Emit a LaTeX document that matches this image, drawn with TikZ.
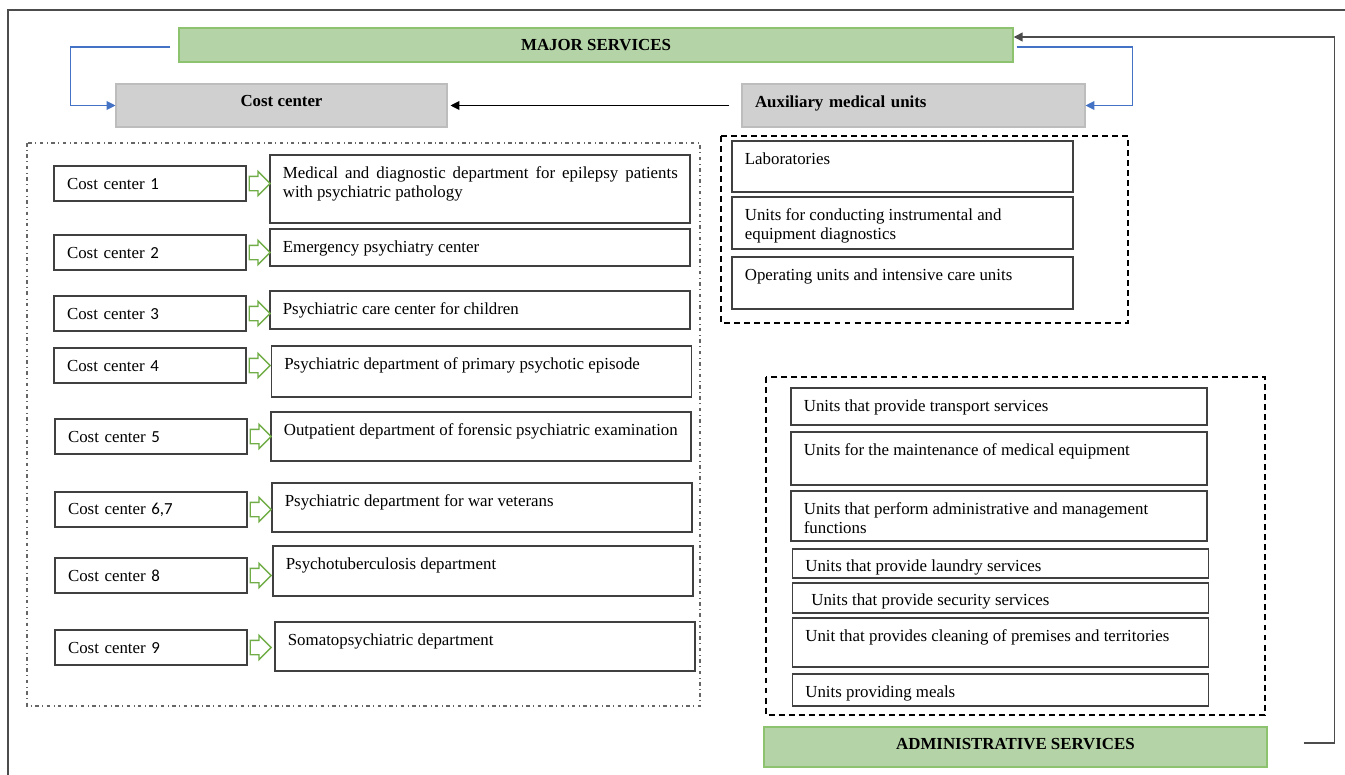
\documentclass[tikz,border=0pt]{standalone}
\usepackage{fontspec}
\setmainfont{Liberation Serif}
\newfontfamily\carlito{Carlito}
\usetikzlibrary{arrows.meta,positioning,shapes.arrows}
\definecolor{majorgreen}{HTML}{B4D3A6}
\definecolor{majoredge}{HTML}{8DC26F}
\definecolor{headgray}{HTML}{D0D0D0}
\definecolor{headedge}{HTML}{BDBDBD}
\definecolor{flowblue}{HTML}{4472C4}
\definecolor{hollowgreen}{HTML}{70AD47}

\tikzset{
  every node/.style={font=\fontsize{9.6}{11}\selectfont},
  service/.style={draw=majoredge, fill=majorgreen, line width=0.8pt, font=\fontsize{9.6}{11}\selectfont\bfseries, inner sep=0pt},
  header/.style={draw=headedge, fill=headgray, line width=0.6pt, font=\fontsize{9.6}{11}\selectfont\bfseries, inner sep=0pt},
  unit/.style={draw=black!75, line width=0.6pt, inner sep=0pt},
  costbox/.style={unit, minimum width=3.84cm, minimum height=0.70cm, text width=3.32cm, align=left, inner xsep=0.26cm},
  dept/.style={unit, minimum width=8.40cm},
  aux unit/.style={unit, minimum width=6.82cm},
  admin unit/.style={unit, minimum width=8.32cm},
  utext/.style={anchor=north west, xshift=0.26cm, yshift=-0.23cm, inner sep=0pt, align=left},
  dtext/.style={utext, text width=7.9cm, align=justify},
  hollow/.style={single arrow, draw=hollowgreen, fill=white, line width=0.8pt, minimum height=0.42cm, inner xsep=0pt, inner ysep=0.13cm, single arrow head extend=0.1cm},
  group/.style={draw=black, line width=0.8pt, dash pattern=on 3.4pt off 2.3pt},
  dotframe/.style={draw=black!60, line width=0.6pt, dash pattern=on 2pt off 2pt on 0.5pt off 2pt},
  flow/.style={line width=0.6pt, -{Triangle[length=5pt,width=5pt]}}
}

\begin{document}
\begin{tikzpicture}
\useasboundingbox (0,0) rectangle (26.9,-15.5);
% outer frame
\draw[black!70, line width=1pt] (0.16,-15.5) -- (0.16,-0.20) -- (26.9,-0.20);

% headings
\node[service, minimum width=16.68cm, minimum height=0.68cm] (major) at (11.92,-0.90) {MAJOR SERVICES};
\node[header, minimum width=6.62cm, minimum height=0.86cm, text depth=0.18cm] (costhead) at (5.63,-2.11) {Cost center};
\node[header, minimum width=6.86cm, minimum height=0.86cm, text width=6.34cm, align=left, inner xsep=0.26cm, text depth=0.16cm] (aux) at (18.27,-2.11) {Auxiliary medical units};
\node[service, minimum width=10.06cm, minimum height=0.80cm, text depth=0.14cm] (admin) at (20.31,-14.94) {ADMINISTRATIVE SERVICES};

% groups
\draw[dotframe] (0.54,-2.86) rectangle (14.00,-14.12);
\draw[group] (14.42,-2.72) rectangle (22.56,-6.46);
\draw[group] (15.32,-7.54) rectangle (25.30,-14.30);

% cost centers
\node[costbox] (c1) at (3.00,-3.67) {Cost center {\carlito 1}};
\node[costbox] (c2) at (3.00,-5.05) {Cost center {\carlito 2}};
\node[costbox] (c3) at (3.00,-6.27) {Cost center {\carlito 3}};
\node[costbox] (c4) at (3.00,-7.31) {Cost center {\carlito 4}};
\node[costbox] (c5) at (3.02,-8.73) {Cost center {\carlito 5}};
\node[costbox] (c6) at (3.02,-10.19) {Cost center {\carlito 6,7}};
\node[costbox] (c7) at (3.02,-11.51) {Cost center {\carlito 8}};
\node[costbox] (c8) at (3.02,-12.95) {Cost center {\carlito 9}};

% departments
\node[dept, minimum height=1.36cm, label={[dtext]north west:Medical and diagnostic department for epilepsy patients with psychiatric pathology}] (d1) at (9.60,-3.78) {};
\node[dept, minimum height=0.74cm, label={[utext]north west:Emergency psychiatry center}] (d2) at (9.60,-4.95) {};
\node[dept, minimum height=0.76cm, label={[utext]north west:Psychiatric care center for children}] (d3) at (9.60,-6.20) {};
\node[dept, minimum height=1.02cm, label={[utext]north west:Psychiatric department of primary psychotic episode}] (d4) at (9.63,-7.43) {};
\node[dept, minimum height=0.98cm, label={[utext]north west:Outpatient department of forensic psychiatric examination}] (d5) at (9.62,-8.73) {};
\node[dept, minimum height=0.98cm, label={[utext]north west:Psychiatric department for war veterans}] (d6) at (9.64,-10.15) {};
\node[dept, minimum height=1.00cm, label={[utext]north west:Psychotuberculosis department}] (d7) at (9.66,-11.42) {};
\node[dept, minimum height=0.98cm, label={[utext]north west:Somatopsychiatric department}] (d8) at (9.70,-12.93) {};

% hollow arrows
\node[hollow, right=0.04cm of c1] (a1) {};
\node[hollow, right=0.04cm of c2] (a2) {};
\node[hollow, right=0.04cm of c3] (a3) {};
\node[hollow, right=0.04cm of c4] (a4) {};
\node[hollow, right=0.04cm of c5] (a5) {};
\node[hollow, right=0.04cm of c6] (a6) {};
\node[hollow, right=0.04cm of c7] (a7) {};
\node[hollow, right=0.04cm of c8] (a8) {};

% auxiliary medical units
\node[aux unit, minimum height=1.02cm, label={[utext]north west:Laboratories}] (lab) at (18.05,-3.33) {};
\node[aux unit, minimum height=1.04cm, label={[utext]north west:Units for conducting instrumental and\\equipment diagnostics}] (diag) at (18.05,-4.46) {};
\node[aux unit, minimum height=1.04cm, label={[utext]north west:Operating units and intensive care units}] (icu) at (18.05,-5.66) {};

% administrative units
\node[admin unit, minimum height=0.74cm, label={[utext]north west:Units that provide transport services}] (transport) at (19.98,-8.13) {};
\node[admin unit, minimum height=1.06cm, label={[utext]north west:Units for the maintenance of medical equipment}] (maint) at (19.98,-9.17) {};
\node[admin unit, minimum height=1.00cm, label={[utext]north west:Units that perform administrative and management\\functions}] (manage) at (19.98,-10.32) {};
\node[admin unit, minimum height=0.58cm, label={[utext, yshift=0.01cm]north west:Units that provide laundry services}] (laundry) at (20.01,-11.27) {};
\node[admin unit, minimum height=0.60cm, label={[utext, xshift=0.12cm, yshift=0.01cm]north west:Units that provide security services}] (security) at (20.01,-11.96) {};
\node[admin unit, minimum height=0.98cm, label={[utext]north west:Unit that provides cleaning of premises and territories}] (cleaning) at (20.01,-12.85) {};
\node[admin unit, minimum height=0.64cm, label={[utext]north west:Units providing meals}] (meals) at (20.01,-13.80) {};

% connectors
\draw[flow, flowblue] ([xshift=-0.16cm,yshift=-0.04cm]major.west) -- ++(-2.0,0) |- (costhead.west);
\draw[flow, flowblue] ([xshift=0.06cm,yshift=-0.04cm]major.east) -- ++(2.32,0) |- (aux.east);
\draw[flow, black] ([xshift=-0.24cm]aux.west) -- ([xshift=0.06cm]costhead.east);
\draw[flow, black!70, line width=0.8pt] ([xshift=0.72cm,yshift=0.08cm]admin.east) -- ++(0.62,0) |- ([yshift=0.16cm]major.east);
\end{tikzpicture}
\end{document}
